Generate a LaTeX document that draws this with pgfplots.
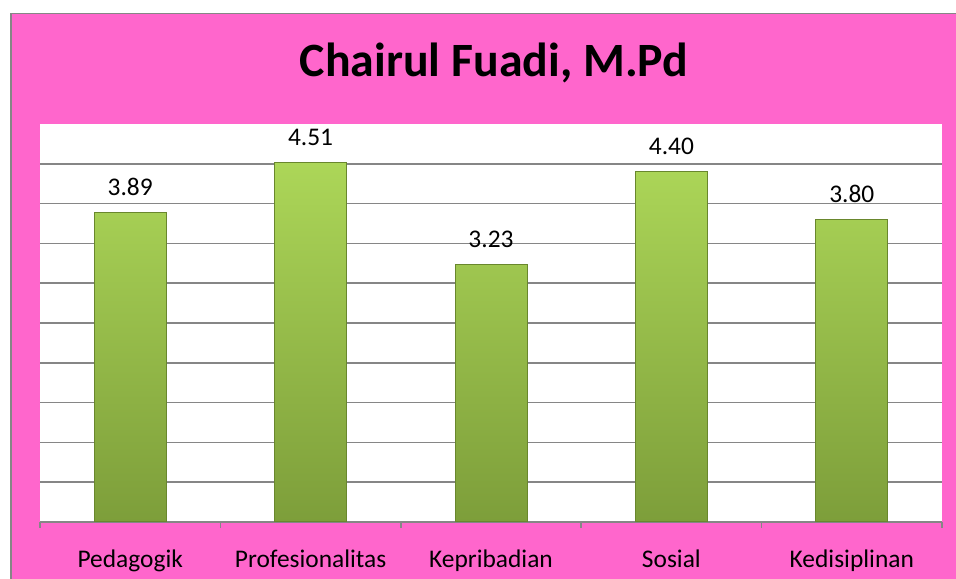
\documentclass[border=0pt]{standalone}
\usepackage{pgfplots}
\pgfplotsset{compat=1.18}
\usepackage{fontspec}
\setmainfont{Carlito}
\definecolor{pinkbg}{RGB}{255,102,204}
\definecolor{gridgray}{RGB}{134,134,134}
\definecolor{bartop}{RGB}{172,214,88}
\definecolor{barbot}{RGB}{125,158,58}
\definecolor{baredge}{RGB}{105,135,45}
\begin{document}
\begin{tikzpicture}[x=1bp,y=1bp]
\useasboundingbox (0,0) rectangle (956,579);
\fill[white] (0,0) rectangle (956,579);
\fill[pinkbg] (10,0) rectangle (956,566);
\draw[gridgray, line width=1.5bp] (10.75,0) -- (10.75,565.25) -- (956,565.25);
\node[font=\bfseries\fontsize{48}{57}\selectfont, anchor=base] at (494,502) {Chairul Fuadi, M.Pd};
\begin{axis}[
  at={(40bp,57bp)}, anchor=south west,
  width=902bp, height=398bp, scale only axis,
  xmin=-0.5, xmax=4.5, ymin=0, ymax=5,
  axis background/.style={fill=white},
  axis x line*=bottom, axis y line*=left,
  y axis line style={draw=none},
  x axis line style={gridgray, line width=1.5bp},
  xtick={0,1,2,3,4},
  xticklabels={Pedagogik,Profesionalitas,Kepribadian,Sosial,Kedisiplinan},
  minor xtick={-0.5,0.5,1.5,2.5,3.5,4.5},
  major x tick style={draw=none},
  minor x tick style={gridgray, line width=1.5bp},
  minor tick length=6bp,
  tick align=outside,
  ytick={0.5,1,1.5,2,2.5,3,3.5,4,4.5},
  yticklabels={},
  major y tick style={draw=none},
  ymajorgrids,
  grid style={gridgray, line width=1.5bp},
  xticklabel style={font=\fontsize{25.5}{30}\selectfont, anchor=base, yshift=-41bp},
  /pgf/number format/assume math mode=true,
  clip=false,
]
\addplot[ybar, bar width=72bp, draw=baredge, line width=1bp,
  top color=bartop, bottom color=barbot,
  nodes near coords={\pgfmathprintnumber[fixed,fixed zerofill,precision=2]{\pgfplotspointmeta}},
  nodes near coords style={font=\fontsize{25.5}{30}\selectfont, anchor=base, yshift=17bp, inner sep=0pt, text=black},
] coordinates {(0,3.89) (1,4.51) (2,3.23) (3,4.40) (4,3.80)};
\end{axis}
\end{tikzpicture}
\end{document}
